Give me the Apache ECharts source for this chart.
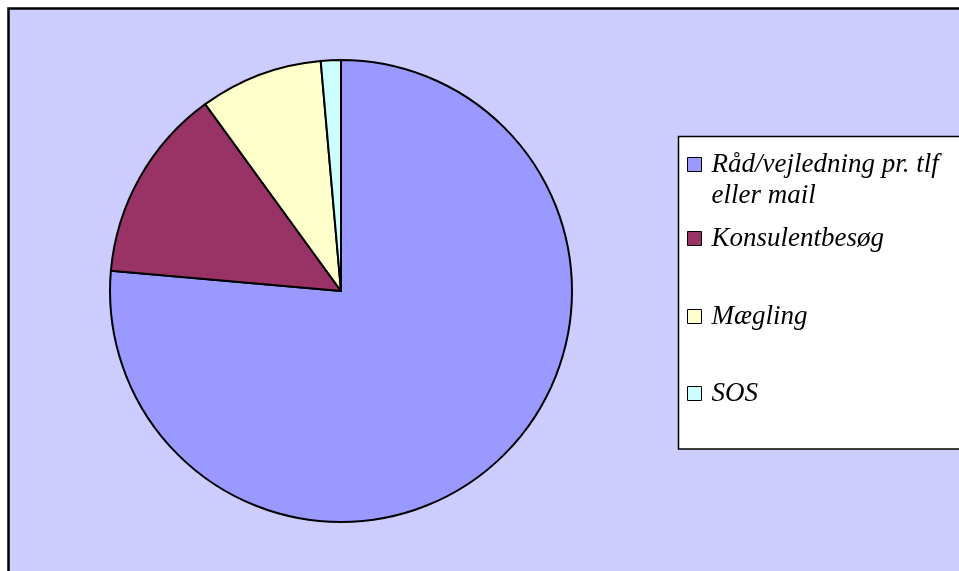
<!DOCTYPE html>
<html>
<head>
<meta charset="utf-8">
<script src="https://cdn.jsdelivr.net/npm/echarts@6/dist/echarts.min.js"></script>
<style>
  html, body { margin: 0; padding: 0; background: #fff; }
  #chart { width: 959px; height: 571px; }
</style>
</head>
<body>
<div id="chart"></div>
<script>
  // andele (procent) aflæst fra lagkagen
  var categories = ['Råd/vejledning pr. tlf eller mail', 'Konsulentbesøg', 'Mægling', 'SOS']
  var values = [76.4, 13.6, 8.6, 1.4]
  var colors = ['#9999FF', '#993366', '#FFFFCC', '#CCFFFF']

  var myChart = echarts.init(document.getElementById('chart'))

  var legendFont = {
    fontFamily: 'Liberation Serif, serif',
    fontStyle: 'italic',
    fontSize: 27,
    color: '#000',
    lineHeight: 31,
    padding: [0, 0, 0, 5],
  }

  // en legend pr. punkt, så de kan placeres som i originalen
  var legendTops = [118, 223, 301, 378]
  var legends = categories.map(function (name, i) {
    return {
      data: [name],
      orient: 'vertical',
      left: 687,
      top: legendTops[i],
      padding: 0,
      icon: 'rect',
      itemWidth: 14,
      itemHeight: 14,
      selectedMode: false,
      itemStyle: { borderColor: '#000', borderWidth: 1 },
      formatter: function (n) {
        // tom første linje, så markøren står ud for første tekstlinje
        return n === categories[0] ? '\nRåd/vejledning pr. tlf\neller mail' : n
      },
      textStyle: legendFont,
    }
  })

  var option = {
    animation: false,
    backgroundColor: '#fff',
    graphic: [
      {
        type: 'rect',
        z: 0,
        shape: { x: 8.5, y: 8.5, width: 1000, height: 1000 },
        style: { fill: '#CCCCFF', stroke: '#000', lineWidth: 2.5 },
        silent: true,
      },
      {
        type: 'rect',
        z: 1,
        shape: { x: 678.5, y: 136.5, width: 400, height: 312.5 },
        style: { fill: '#fff', stroke: '#000', lineWidth: 1.5 },
        silent: true,
      },
    ],
    legend: legends,
    series: [
      {
        type: 'pie',
        center: [341, 291],
        radius: 231,
        startAngle: 90,
        clockwise: true,
        label: { show: false },
        labelLine: { show: false },
        emphasis: { disabled: true },
        itemStyle: { borderColor: '#000', borderWidth: 2 },
        data: categories.map(function (name, i) {
          return { name: name, value: values[i], itemStyle: { color: colors[i] } }
        }),
      },
    ],
  }

  option && myChart.setOption(option)
</script>
</body>
</html>
